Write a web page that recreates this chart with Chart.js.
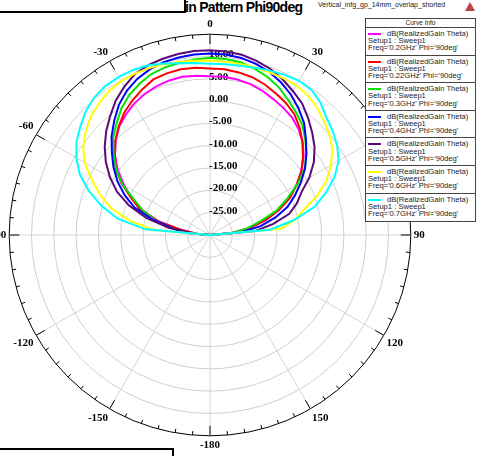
<!DOCTYPE html>
<html>
<head>
<meta charset="utf-8">
<script src="https://cdn.jsdelivr.net/npm/chart.js@4.4.1/dist/chart.umd.min.js"></script>
<style>
  html, body { margin: 0; padding: 0; background: #fff; }
  body { position: relative; width: 479px; height: 456px; overflow: hidden; font-family: "Liberation Sans", Arial, sans-serif; }
  #polar { position: absolute; left: -20px; top: 18px; }
  .title { position: absolute; left: 185px; top: -1px; font-weight: bold; font-size: 14px; letter-spacing: -0.7px; color: #000; white-space: nowrap; }
  .project { position: absolute; left: 318px; top: 1px; font-size: 7px; color: #222; white-space: nowrap; }
  .logo { position: absolute; left: 465px; top: 2px; width: 0; height: 0; border-left: 5px solid transparent; border-right: 5px solid transparent; border-bottom: 9px solid #b44; }
  .cover-top { position: absolute; left: -4px; top: -6px; width: 186px; height: 15px; border: 2px solid #000; background: #fff; }
  .cover-bottom { position: absolute; left: -4px; top: 448px; width: 174px; height: 20px; border: 2px solid #000; background: #fff; }
  #legend { position: absolute; left: 365px; top: 18px; width: 109px; border: 1px solid #444; background: #fff; font-size: 7.6px; color: #222; }
  #legend .head { text-align: center; height: 8px; line-height: 8px; border-bottom: 1px solid #444; font-size: 6.5px; }
  #legend .entry { height: 27.6px; border-bottom: 1px solid #444; padding-left: 2px; line-height: 7.2px; box-sizing: border-box; padding-top: 2px; white-space: nowrap; }
  #legend .entry:last-child { border-bottom: none; }
  #legend .swatch { display: inline-block; width: 13px; height: 2px; vertical-align: middle; margin-right: 6px; }
</style>
</head>
<body>
<div class="cover-top"></div>
<div class="title">in Pattern Phi90deg</div>
<div class="project">Vertical_infg_gp_14mm_overlap_shorted</div>
<div class="logo"></div>
<canvas id="polar" width="458" height="434"></canvas>
<div id="legend"></div>
<div class="cover-bottom"></div>
<script>
// angle axis, clockwise from -90 (left) through 0 (top)
const angleLabels = [-90, -85, -80, -75, -70, -65, -60, -55, -50, -45, -40, -35, -30, -25, -20, -15, -10, -5,
  0, 5, 10, 15, 20, 25, 30, 35, 40, 45, 50, 55, 60, 65, 70, 75, 80, 85, 90, 95, 100, 105, 110, 115, 120,
  125, 130, 135, 140, 145, 150, 155, 160, 165, 170, 175, -180, -175, -170, -165, -160, -155, -150, -145,
  -140, -135, -130, -125, -120, -115, -110, -105, -100, -95];

// dB labels along the 0 deg spoke
const ringLabels = [-25, -20, -15, -10, -5, 0, 5, 10];

const freqs = ["0.2GHz", "0.22GHz", "0.3GHz", "0.4GHz", "0.5GHz", "0.6GHz", "0.7GHz"];
const colors = ["#ff00ff", "#ff0000", "#00e600", "#0000ff", "#5a0a78", "#ffff00", "#00ffff"];

// dB(RealizedGain Theta), theta = -90 .. 90 step 5
const gain02 = [-30, -27, -23, -18, -14, -10.8, -7.8, -4.8, -2.2, -0.1, 1.7, 2.9, 4.0, 4.8, 5.4, 5.8, 6.0, 5.8,
  5.6, 5.6, 5.4, 5.0, 4.4, 3.6, 2.9, 2.1, 0.9, -0.6, -2.6, -5.0, -7.6, -10.5, -13.6, -17.2, -21, -25, -30];
const gain022 = [-30, -27, -23.5, -17.6, -13.3, -10.6, -7.2, -4.2, -2.2, 0.0, 1.8, 3.5, 4.8, 6.0, 7.1, 7.5, 7.7, 7.6,
  7.3, 7.3, 7.0, 6.6, 5.9, 5.0, 4.1, 3.0, 1.3, -0.7, -2.8, -5.0, -7.6, -10.2, -13.5, -17, -21, -25, -30];
const gain03 = [-30, -25, -21.2, -17.3, -14.0, -11.2, -7.3, -4.3, -1.8, 0.7, 2.6, 4.6, 6.2, 7.4, 8.4, 8.9, 9.2, 9.5,
  9.7, 9.6, 9.3, 8.6, 7.7, 6.5, 5.0, 3.6, 2.2, 0.2, -1.8, -4.1, -7.4, -11.0, -14.2, -18.5, -21.5, -25, -30];
const gain04 = [-30, -25.5, -21.5, -16.8, -12, -8.9, -6.1, -3.6, -1.3, 1.2, 3.4, 5.6, 7.3, 8.6, 9.5, 10.1, 10.4, 10.6,
  10.7, 10.6, 10.3, 9.7, 8.9, 7.7, 6.3, 4.6, 2.8, 0.4, -1.8, -4.0, -6.5, -9.0, -11.5, -14.8, -18.5, -23, -30];
const gain05 = [-30, -26.5, -20.6, -15.2, -10.7, -7.0, -4.1, -1.5, 0.8, 2.9, 4.8, 6.8, 8.4, 9.8, 10.5, 10.9, 11.2, 11.4,
  11.4, 11.3, 11.0, 10.4, 9.6, 8.5, 7.2, 6.0, 4.2, 2.4, 0.6, -1.6, -4.3, -7.4, -9.3, -11.6, -15.6, -19.8, -30];
const gain06 = [-30, -17.5, -11.8, -7.2, -3.8, -0.8, 2.5, 4.7, 6.3, 7.7, 8.6, 9.4, 9.8, 9.9, 9.8, 9.6, 9.4, 9.2,
  9.1, 9.0, 8.9, 8.9, 8.8, 8.8, 8.7, 8.2, 7.3, 6.1, 4.9, 3.5, 1.3, -1.2, -4.5, -8.3, -10.8, -14, -30];
const gain07 = [-30, -15.5, -9, -4.8, -1.1, 2.2, 4.6, 6.5, 7.9, 9.3, 10.3, 10.8, 10.9, 10.8, 10.5, 9.8, 9.1, 8.7,
  8.4, 8.4, 8.5, 8.8, 9.2, 9.6, 9.9, 9.7, 8.6, 7.0, 6.0, 4.8, 3.3, 0.8, -2.4, -5.8, -11.0, -16.5, -30];

const series = [gain02, gain022, gain03, gain04, gain05, gain06, gain07];

// rim ticks and dB labels, drawn under the curves
const polarDecor = {
  id: "polarDecor",
  beforeDatasetsDraw(chart) {
    const r = chart.scales.r;
    const ctx = chart.ctx;
    ctx.save();
    ctx.strokeStyle = "#000";
    ctx.lineWidth = 1;
    angleLabels.forEach((a, i) => {
      const len = a % 30 === 0 ? 10 : 4;
      const p1 = r.getPointPosition(i, r.drawingArea);
      const p2 = r.getPointPosition(i, r.drawingArea - len);
      ctx.beginPath();
      ctx.moveTo(p1.x, p1.y);
      ctx.lineTo(p2.x, p2.y);
      ctx.stroke();
    });
    ctx.font = 'bold 11px "Liberation Serif", serif';
    ctx.fillStyle = "#000";
    ctx.textAlign = "left";
    ctx.textBaseline = "middle";
    ringLabels.forEach((v) => {
      const d = r.getDistanceFromCenterForValue(v);
      ctx.fillText(v.toFixed(2), r.xCenter - 1, r.yCenter - d - 2);
    });
    ctx.restore();
  },
};

const chart = new Chart(document.getElementById("polar"), {
  type: "radar",
  data: {
    labels: angleLabels,
    datasets: series.map((values, i) => ({
      label: "dB(RealizedGain Theta)",
      data: values,
      borderColor: colors[i],
      borderWidth: 2,
      pointRadius: 0,
      fill: false,
      order: series.length - 1 - i,
    })),
  },
  options: {
    responsive: false,
    animation: false,
    layout: { padding: 0 },
    plugins: {
      legend: { display: false },
      tooltip: { enabled: false },
    },
    scales: {
      r: {
        min: -30,
        max: 15,
        startAngle: -90,
        ticks: { stepSize: 5, display: false },
        grid: {
          circular: true,
          color: (c) => (c.tick && c.tick.value === 15 ? "#000" : "#cfcfcf"),
          lineWidth: 1,
        },
        angleLines: {
          color: "#d4d4d4",
          lineWidth: (c) => (c.label !== "" ? 1 : 0),
        },
        pointLabels: {
          padding: 3,
          color: "#000",
          font: { family: '"Liberation Serif", serif', weight: "bold", size: 11 },
          callback: (label) => (label % 30 === 0 ? String(label) : ""),
        },
      },
    },
  },
  plugins: [polarDecor],
});

// Curve Info box built from the datasets
const legend = document.getElementById("legend");
let html = '<div class="head">Curve Info</div>';
chart.data.datasets.forEach((ds, i) => {
  html += `<div class="entry"><span class="swatch" style="background:${ds.borderColor}"></span>${ds.label}<br>` +
    `Setup1 : Sweep1<br>Freq='${freqs[i]}' Phi='90deg'</div>`;
});
legend.innerHTML = html;
</script>
</body>
</html>
